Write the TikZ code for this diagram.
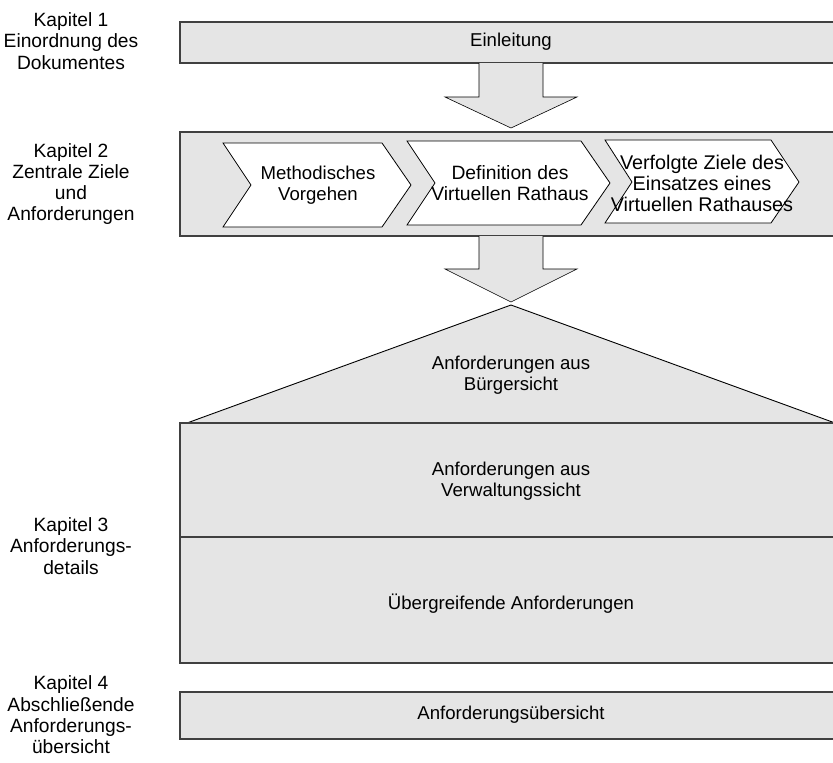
\documentclass[tikz,border=0pt]{standalone}
\usepackage{fontspec}
\setmainfont{Liberation Sans}
\begin{document}
\begin{tikzpicture}[x=1pt,y=-1pt,
  lbl/.style={align=center,inner sep=0pt,font=\fontsize{18.6}{21}\selectfont},
  sidelbl/.style={lbl,font=\fontsize{19.2}{21.3}\selectfont},
  panel/.style={fill=black!10,draw=black!75,line width=1.3pt},
  blockarrow/.style={fill=black!10,draw=black,line width=0.6pt},
  chev/.style={fill=white,draw=black,line width=0.8pt},
  roof/.style={fill=black!10,draw=black,line width=0.9pt}]
\useasboundingbox (0,0) rectangle (833,763);
\begin{scope}
\clip (0,0) rectangle (833,763);
% Kapitel 1
\draw[panel] (180,22) rectangle (842,63);
\node[lbl] (einl) at (511,42) {Einleitung};
\draw[blockarrow] (479,63) -- (479,97) -- (445,97) -- (511,128) -- (577,97) -- (543,97) -- (543,63);
% Kapitel 2
\draw[panel] (180,132) rectangle (842,236);
\draw[chev] (223,143) -- (382,143) -- (411,185) -- (382,227) -- (223,227) -- (251,185) -- cycle;
\draw[chev] (407,141) -- (581,141) -- (610,183) -- (581,225) -- (407,225) -- (435,183) -- cycle;
\draw[chev] (605,140) -- (771,140) -- (799,182) -- (771,223) -- (605,223) -- (632,182) -- cycle;
\node[lbl] (methode) at (318,185) {Methodisches\\Vorgehen};
\node[lbl,font=\fontsize{19.3}{21}\selectfont] (defin) at (510,183) {Definition des\\Virtuellen Rathaus};
\node[lbl,font=\fontsize{19.8}{21}\selectfont] (ziele) at (702,183) {Verfolgte Ziele des\\Einsatzes eines\\Virtuellen Rathauses};
\draw[blockarrow] (479,236) -- (479,269) -- (445,269) -- (511,302) -- (577,269) -- (543,269) -- (543,236);
% Kapitel 3
\draw[roof] (511,305) -- (187,423) -- (835,423) -- cycle;
\node[lbl] (buerger) at (511,375) {Anforderungen aus\\Bürgersicht};
\draw[panel] (180,423) rectangle (842,537);
\node[lbl] (verw) at (511,481) {Anforderungen aus\\Verwaltungssicht};
\draw[panel] (180,537) rectangle (842,663);
\node[lbl] (ueber) at (511,604) {Übergreifende Anforderungen};
% Kapitel 4
\draw[panel] (180,692) rectangle (842,739);
\node[lbl] (uebersicht) at (511,715) {Anforderungsübersicht};
\end{scope}
% left labels
\node[sidelbl] (k1) at (71,41) {Kapitel 1\\Einordnung des\\Dokumentes};
\node[sidelbl] (k2) at (71,184) {Kapitel 2\\Zentrale Ziele\\und\\Anforderungen};
\node[sidelbl] (k3) at (71,546) {Kapitel 3\\Anforderungs-\\details};
\node[sidelbl] (k4) at (71,715) {Kapitel 4\\Abschließende\\Anforderungs-\\übersicht};
\end{tikzpicture}
\end{document}
